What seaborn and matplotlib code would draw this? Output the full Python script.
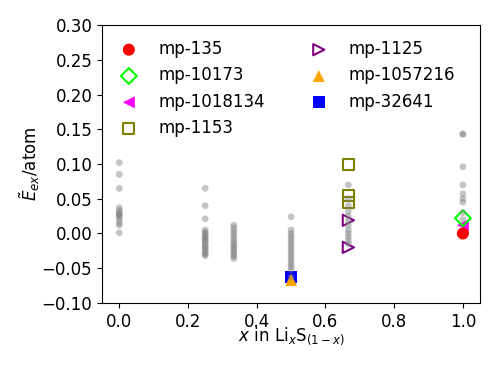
import numpy as np
import pandas as pd
import matplotlib
matplotlib.use('Agg')
import matplotlib.pyplot as plt
import seaborn as sns

# grey background points (all structures), per composition
x_vals = [0.0, 0.25, 1/3, 0.5, 2/3, 1.0]
grey_e = [
    [0.102, 0.085, 0.065, 0.037, 0.033, 0.030, 0.028, 0.026, 0.024, 0.020, 0.015, 0.012, 0.001],
    [0.065, 0.040, 0.021, 0.005, 0.002, 0.0, -0.003, -0.005, -0.008, -0.010, -0.012, -0.015,
     -0.018, -0.020, -0.022, -0.025, -0.028, -0.030, -0.032],
    [0.012, 0.008, 0.004, 0.0, -0.004, -0.008, -0.012, -0.015, -0.018, -0.021, -0.024, -0.027,
     -0.030, -0.033, -0.036],
    [0.024, 0.005, 0.0, -0.004, -0.008, -0.012, -0.016, -0.020, -0.024, -0.028, -0.032, -0.036,
     -0.040, -0.044, -0.048, -0.052, -0.063],
    [0.070, 0.050, 0.040, 0.032, 0.025, 0.018, 0.012, 0.005, 0.0, -0.005, -0.010, -0.015],
    [0.143, 0.143, 0.096, 0.070, 0.057, 0.050, 0.045, 0.030, 0.020],
]

# highlighted materials
mp_ids = ['mp-135', 'mp-10173', 'mp-1018134', 'mp-1153', 'mp-1125', 'mp-1057216', 'mp-32641']
mp_x = [[1.0], [1.0], [1.0], [2/3, 2/3, 2/3], [2/3, 2/3], [0.5], [0.5]]
mp_e = [[0.0], [0.022], [0.012], [0.099, 0.055, 0.045], [0.019, -0.020], [-0.067], [-0.063]]
mp_marker = ['o', 'D', '<', 's', '>', '^', 's']
mp_color = ['red', 'lime', 'magenta', 'olive', 'purple', 'orange', 'blue']
mp_filled = [True, False, True, False, False, True, True]
mp_z = [4, 3.5, 3, 3, 3, 3.5, 3]

plt.rcParams['font.size'] = 12

rows = []
for xv, es in zip(x_vals, grey_e):
    for e in es:
        rows.append({'x': xv, 'e': e})
df = pd.DataFrame(rows)

fig = plt.figure(figsize=(4.98, 3.74), dpi=100)
ax = fig.add_axes([0.205, 0.19, 0.759, 0.743])

sns.scatterplot(data=df, x='x', y='e', color='grey', alpha=0.45, s=24,
                edgecolor='none', ax=ax, legend=False, zorder=5)

for i in range(len(mp_ids)):
    if mp_filled[i]:
        sns.scatterplot(x=mp_x[i], y=mp_e[i], marker=mp_marker[i], color=mp_color[i],
                        s=75, edgecolor='none', label=mp_ids[i], ax=ax, zorder=mp_z[i])
    else:
        sns.scatterplot(x=mp_x[i], y=mp_e[i], marker=mp_marker[i], facecolor='none',
                        edgecolor=mp_color[i], linewidth=1.5, s=65, label=mp_ids[i],
                        ax=ax, zorder=mp_z[i])

ax.set_ylim(-0.10, 0.30)
ax.set_xlim(-0.05, 1.05)
ax.set_yticks(np.arange(-0.10, 0.301, 0.05))
ax.set_xlabel(r'$x$ in Li$_x$S$_{(1-x)}$', labelpad=-4)
ax.set_ylabel(r'$\tilde{E}_{ex}$/atom', labelpad=0)
ax.legend(loc='upper left', ncol=2, frameon=False, bbox_to_anchor=(-0.013, 1.0),
          columnspacing=2.2)

fig.savefig('out.png', dpi=100)
